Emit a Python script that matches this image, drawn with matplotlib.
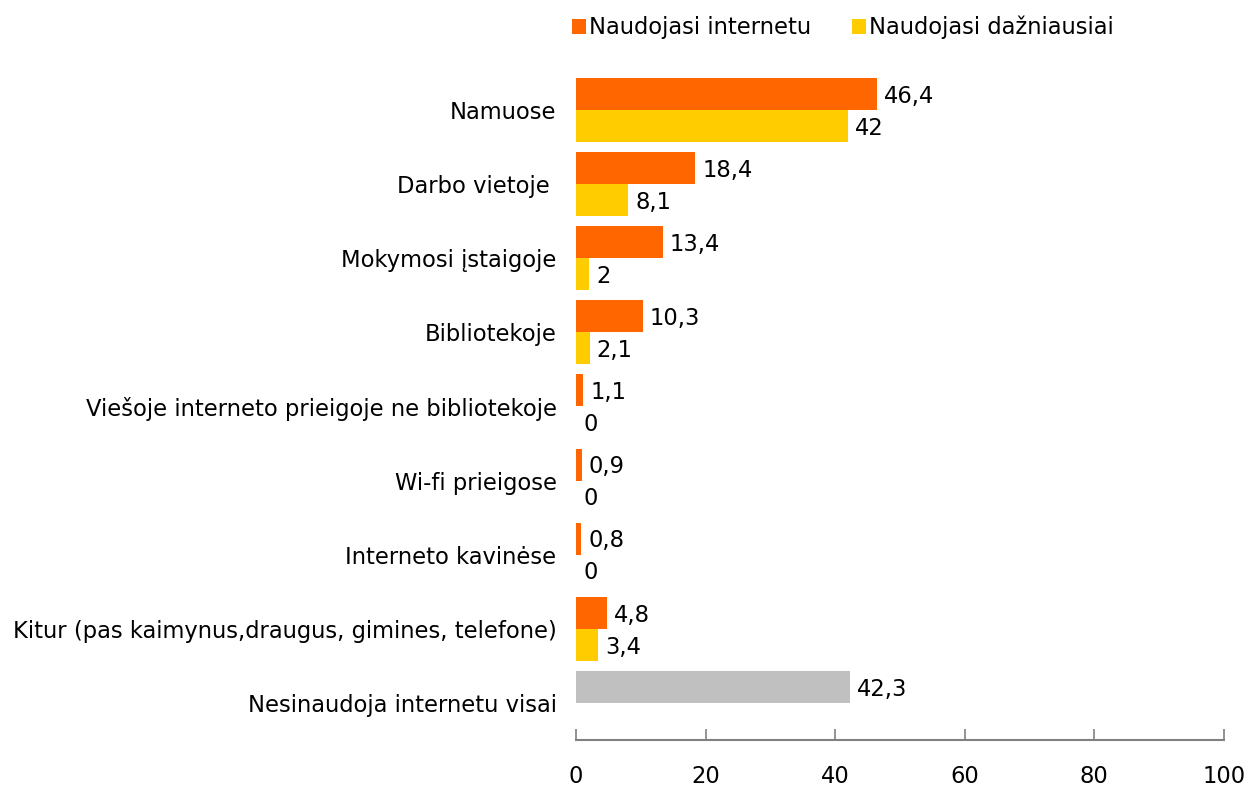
import numpy as np
import matplotlib.pyplot as plt

# Duomenys
categories = ["Namuose", "Darbo vietoje ", "Mokymosi įstaigoje", "Bibliotekoje",
              "Viešoje interneto prieigoje ne bibliotekoje", "Wi-fi prieigose",
              "Interneto kavinėse", "Kitur (pas kaimynus,draugus, gimines, telefone)",
              "Nesinaudoja internetu visai"]
uses_internet = [46.4, 18.4, 13.4, 10.3, 1.1, 0.9, 0.8, 4.8, 42.3]
uses_most = [42, 8.1, 2, 2.1, 0, 0, 0, 3.4, None]
x_ticks = [0, 20, 40, 60, 80, 100]

orange = '#FF6600'
yellow = '#FFCC00'
grey = '#C0C0C0'


def fmt(v):
    s = ('%g' % v)
    return s.replace('.', ',')


fig = plt.figure(figsize=(12.51, 7.89), dpi=100)
ax = fig.add_axes([0.4604, 0.0621, 0.518, 0.8454])

y = np.arange(len(categories))
h = 0.432
fs = 16.3

colors1 = [orange] * (len(categories) - 1) + [grey]
ax.barh(y - h / 2, uses_internet, height=h, color=colors1, label='Naudojasi internetu')
most_vals = [v if v is not None else 0 for v in uses_most]
mask = [v is not None for v in uses_most]
ax.barh(y[mask] + h / 2, np.array(most_vals)[mask], height=h, color=yellow,
        label='Naudojasi dažniausiai')

for i, v in enumerate(uses_internet):
    ax.text(v + 1.1, y[i] - h / 2 + 0.03, fmt(v), va='center', ha='left', fontsize=fs)
for i, v in enumerate(uses_most):
    if v is None:
        continue
    ax.text(v + 1.1, y[i] + h / 2 + 0.03, fmt(v), va='center', ha='left', fontsize=fs)

ax.set_xlim(0, 100)
ax.set_ylim(len(categories) - 0.5, -0.5)
ax.set_xticks(x_ticks)
ax.set_yticks(y)
ax.set_yticklabels(categories, fontsize=fs)
ax.tick_params(axis='y', length=0, pad=14)
ax.tick_params(axis='x', direction='in', length=8, width=1.2, color='#808080',
               labelsize=fs, pad=18)

for s in ['top', 'right', 'left']:
    ax.spines[s].set_visible(False)
ax.spines['bottom'].set_color('#808080')
ax.spines['bottom'].set_linewidth(1.5)

fig.legend(loc='center left', bbox_to_anchor=(0.441, 0.965), ncol=2, frameon=False,
           fontsize=fs, handlelength=0.6, handleheight=0.6, handletextpad=0.15,
           columnspacing=1.8)

fig.savefig('out.png', dpi=100)
